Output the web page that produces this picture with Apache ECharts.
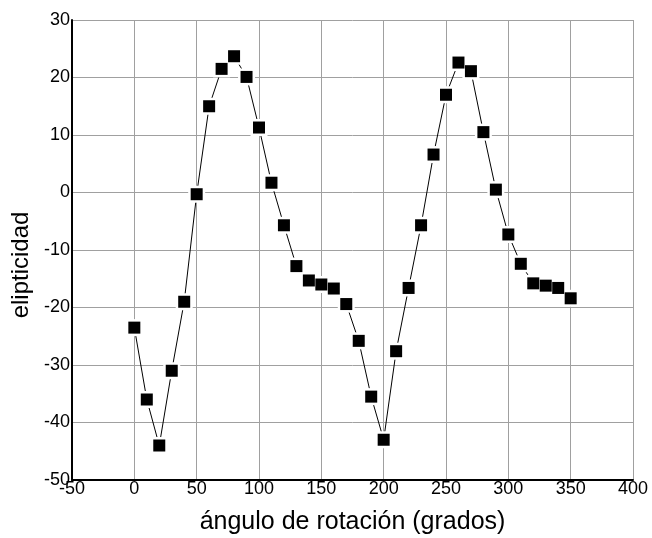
<!DOCTYPE html>
<html><head><meta charset="utf-8">
<script src="https://cdn.jsdelivr.net/npm/echarts@6/dist/echarts.min.js"></script>
<style>html,body{margin:0;padding:0;background:#fff}#c{width:652px;height:538px}</style>
</head><body><div id="c"></div>
<script>
const angles = [0,10,20,30,40,50,60,70,80,90,100,110,120,130,140,150,160,170,180,190,200,210,220,230,240,250,260,270,280,290,300,310,320,330,340,350];
const ellipticity = [-23.5,-36,-44,-31,-19,-0.3,15,21.5,23.7,20.1,11.3,1.7,-5.7,-12.8,-15.3,-16,-16.7,-19.4,-25.8,-35.5,-43,-27.6,-16.6,-5.7,6.6,17,22.6,21.1,10.5,0.5,-7.3,-12.4,-15.8,-16.2,-16.6,-18.4];
const xName = 'ángulo de rotación (grados)';
const yName = 'elipticidad';

const pts = angles.map((a,i)=>[a,ellipticity[i]]);
const chart = echarts.init(document.getElementById('c'), null, {renderer:'canvas'});
const font = 'Liberation Sans, Arial, sans-serif';
chart.setOption({
  animation:false,
  backgroundColor:'#fff',
  grid:{left:72,top:20,right:19,bottom:58,containLabel:false,outerBoundsMode:'none'},
  xAxis:{type:'value',min:-50,max:400,interval:50,
    name:xName,nameLocation:'middle',nameGap:30,
    nameTextStyle:{fontFamily:font,fontSize:25,color:'#000'},
    axisLine:{show:true,onZero:false,lineStyle:{color:'#000',width:2}},
    axisTick:{show:false},
    axisLabel:{fontFamily:font,fontSize:18,color:'#000',margin:0,showMinLabel:true,showMaxLabel:true},
    splitLine:{show:true,lineStyle:{color:'#a0a0a0',width:1}}},
  yAxis:{type:'value',min:-50,max:30,interval:10,
    name:yName,nameLocation:'middle',nameGap:37,nameRotate:90,
    nameTextStyle:{fontFamily:font,fontSize:24,color:'#000',padding:[0,30,0,0]},
    axisLine:{show:true,onZero:false,lineStyle:{color:'#000',width:2}},
    axisTick:{show:false},
    axisLabel:{fontFamily:font,fontSize:18,color:'#000',margin:2,showMinLabel:true,showMaxLabel:true},
    splitLine:{show:true,lineStyle:{color:'#a0a0a0',width:1}}},
  series:[
    {type:'line',data:pts,symbol:'none',z:2,lineStyle:{color:'#000',width:1}},
    {type:'scatter',data:pts,symbol:'rect',symbolSize:17,z:3,itemStyle:{color:'#fff',opacity:1}},
    {type:'scatter',data:pts,symbol:'rect',symbolSize:12,z:4,itemStyle:{color:'#000',opacity:1}}
  ]
});
</script></body></html>
